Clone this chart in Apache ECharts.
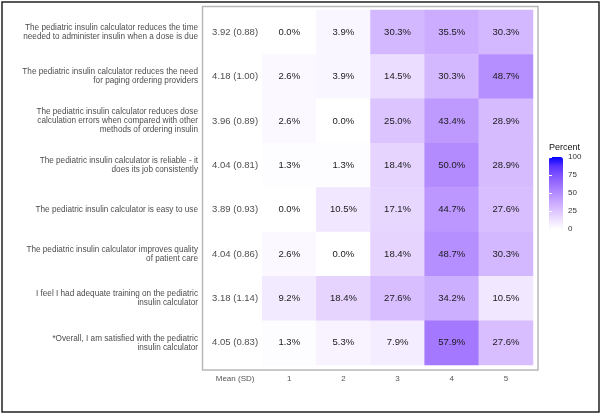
<!DOCTYPE html>
<html>
<head>
<meta charset="utf-8">
<script src="https://cdn.jsdelivr.net/npm/echarts@6/dist/echarts.min.js"></script>
<style>
html,body{margin:0;padding:0;background:#fff;}
#chart{width:604px;height:417px;}
</style>
</head>
<body>
<div id="chart"></div>
<script>
// ---- data ----
var items = [
  'The pediatric insulin calculator reduces the time\nneeded to administer insulin when a dose is due',
  'The pediatric insulin calculator reduces the need\nfor paging ordering providers',
  'The pediatric insulin calculator reduces dose\ncalculation errors when compared with other\nmethods of ordering insulin',
  'The pediatric insulin calculator is reliable - it\ndoes its job consistently',
  'The pediatric insulin calculator is easy to use',
  'The pediatric insulin calculator improves quality\nof patient care',
  'I feel I had adequate training on the pediatric\ninsulin calculator',
  '*Overall, I am satisfied with the pediatric\ninsulin calculator'
];
var columns = ['Mean (SD)', '1', '2', '3', '4', '5'];
var means = [3.92, 4.18, 3.96, 4.04, 3.89, 4.04, 3.18, 4.05];
var sds   = [0.88, 1.00, 0.89, 0.81, 0.93, 0.86, 1.14, 0.83];
var pct1 = [0.0, 2.6, 2.6, 1.3, 0.0, 2.6, 9.2, 1.3];
var pct2 = [3.9, 3.9, 0.0, 1.3, 10.5, 0.0, 18.4, 5.3];
var pct3 = [30.3, 14.5, 25.0, 18.4, 17.1, 18.4, 27.6, 7.9];
var pct4 = [35.5, 30.3, 43.4, 50.0, 44.7, 48.7, 34.2, 57.9];
var pct5 = [30.3, 48.7, 28.9, 28.9, 27.6, 30.3, 10.5, 27.6];
var legendTicks = [0, 25, 50, 75, 100];

// ---- build ----
var pctCols = [pct1, pct2, pct3, pct4, pct5];
var heatData = [];
pctCols.forEach(function (col, ci) {
  col.forEach(function (v, ri) { heatData.push([ci + 1, ri, v]); });
});
var meanData = means.map(function (m, i) {
  return { value: [0, i], label: { formatter: m.toFixed(2) + ' (' + sds[i].toFixed(2) + ')' } };
});
// white -> blue interpolated in Lab space (as ggplot does)
var ramp = ['#FFFFFF', '#EEE2FF', '#DCC4FF', '#C8A8FF', '#B38BFF', '#9B6FFF', '#7E52FF', '#5932FF', '#0000FF'];

var FONT = '"Liberation Sans", Arial, sans-serif';
var chart = echarts.init(document.getElementById('chart'), null, { renderer: 'canvas' });
chart.setOption({
  animation: false,
  backgroundColor: '#ffffff',
  grid: [
    { left: 208, right: 71, top: 10, bottom: 52, containLabel: false },
    { left: 549, top: 157, width: 14, height: 72 }
  ],
  xAxis: [
    {
      type: 'category', data: columns, gridIndex: 0,
      axisLine: { show: false }, axisTick: { show: false }, splitLine: { show: false },
      axisLabel: { color: '#555555', fontSize: 8, fontFamily: FONT, margin: 10 }
    },
    { type: 'value', gridIndex: 1, show: false, min: 0, max: 1 }
  ],
  yAxis: [
    {
      type: 'category', data: items, inverse: true, gridIndex: 0,
      axisLine: { show: false }, axisTick: { show: false }, splitLine: { show: false },
      axisLabel: { color: '#4d4d4d', fontSize: 8.2, lineHeight: 9, fontFamily: FONT, margin: 10, align: 'right' }
    },
    {
      type: 'value', gridIndex: 1, min: legendTicks[0], max: legendTicks[legendTicks.length - 1],
      interval: legendTicks[1] - legendTicks[0], position: 'right',
      axisLine: { show: false }, splitLine: { show: false },
      axisTick: { show: true, inside: true, length: 3, lineStyle: { color: '#ffffff', width: 1 } },
      axisLabel: { color: '#333333', fontSize: 8, fontFamily: FONT, margin: 5 },
      z: 10
    },
    {
      type: 'value', gridIndex: 1, min: legendTicks[0], max: legendTicks[legendTicks.length - 1],
      interval: legendTicks[1] - legendTicks[0], position: 'left',
      axisLine: { show: false }, splitLine: { show: false },
      axisTick: { show: true, inside: true, length: 3, lineStyle: { color: '#ffffff', width: 1 } },
      axisLabel: { show: false },
      z: 10
    }
  ],
  visualMap: {
    type: 'continuous', seriesIndex: 0, min: 0, max: 100,
    calculable: false, realtime: false, hoverLink: false,
    left: 549, top: 157, itemWidth: 14, itemHeight: 72, padding: 0,
    text: null, showLabel: false,
    inRange: { color: ramp }
  },
  graphic: [
    { type: 'rect', shape: { x: 2, y: 2, width: 597, height: 410 }, style: { fill: 'none', stroke: '#222222', lineWidth: 1.5 }, z: -1, silent: true },
    { type: 'rect', shape: { x: 202.5, y: 6.5, width: 335.5, height: 363.5 }, style: { fill: 'none', stroke: '#b8b8b8', lineWidth: 1.5 }, z: -1, silent: true },
    { type: 'text', left: 549, top: 143, style: { text: 'Percent', fill: '#111111', fontSize: 9, fontFamily: FONT }, silent: true }
  ],
  series: [
    {
      type: 'heatmap', xAxisIndex: 0, yAxisIndex: 0, data: heatData,
      itemStyle: { borderWidth: 0 },
      label: {
        show: true, color: '#1a1a1a', fontSize: 9.5, fontFamily: FONT,
        formatter: function (p) { return p.value[2].toFixed(1) + '%'; }
      },
      emphasis: { disabled: true }
    },
    {
      type: 'scatter', xAxisIndex: 0, yAxisIndex: 0, data: meanData,
      symbolSize: 0, itemStyle: { color: 'transparent' },
      label: { show: true, position: 'inside', color: '#1a1a1a', fontSize: 9.5, fontFamily: FONT },
      emphasis: { disabled: true }
    },
    {
      type: 'line', xAxisIndex: 1, yAxisIndex: 1, data: [], silent: true
    }
  ]
});
</script>
</body>
</html>
